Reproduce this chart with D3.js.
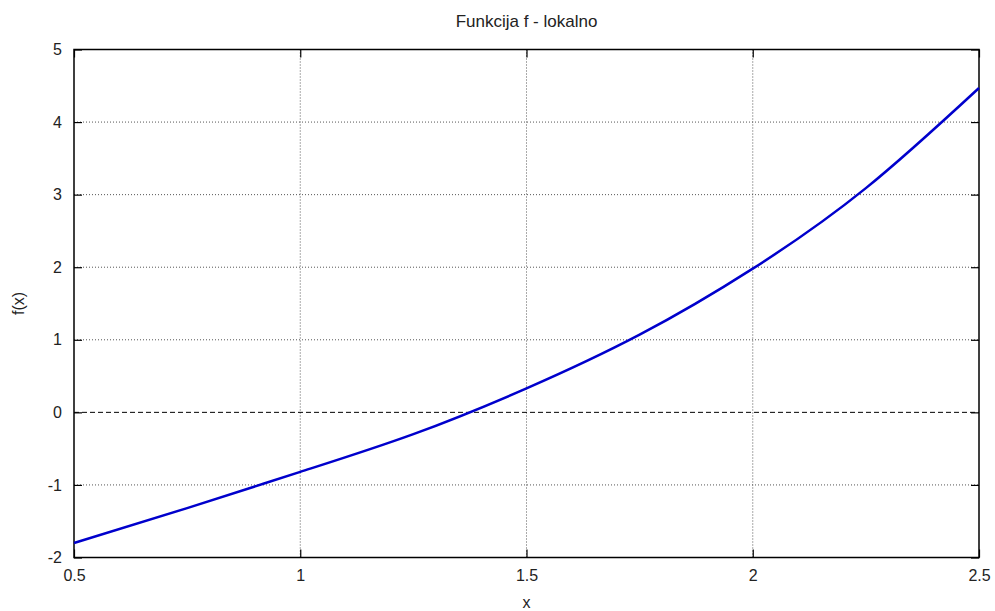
<!DOCTYPE html>
<html>
<head>
<meta charset="utf-8">
<script src="https://cdn.jsdelivr.net/npm/d3@7"></script>
<style>
  body { margin: 0; background: #fff; }
  text { font-family: "Liberation Sans", Arial, sans-serif; fill: #222; }
</style>
</head>
<body>
<div id="chart"></div>
<script>
// curve values
const xs = [0.5, 0.75, 1, 1.25, 1.5, 1.75, 2, 2.25, 2.5]
const fx = [-1.80, -1.32, -0.82, -0.30, 0.33, 1.07, 1.98, 3.09, 4.47]
const xTicks = [0.5, 1, 1.5, 2, 2.5]
const yTicks = [-2, -1, 0, 1, 2, 3, 4, 5]

const W = 995
const H = 611
const margin = { top: 49.5, right: 16, bottom: 53.5, left: 74 }
const w = W - margin.left - margin.right
const h = H - margin.top - margin.bottom

const svg = d3.select('#chart').append('svg')
  .attr('width', W)
  .attr('height', H)

const g = svg.append('g')
  .attr('transform', 'translate(' + margin.left + ',' + margin.top + ')')

const x = d3.scaleLinear().domain([0.5, 2.5]).range([0, w])
const y = d3.scaleLinear().domain([-2, 5]).range([h, 0])

// grid, dotted
g.selectAll('.gx')
  .data(xTicks.filter(d => d > 0.5 && d < 2.5))
  .enter().append('line')
  .attr('x1', d => x(d)).attr('x2', d => x(d))
  .attr('y1', 0).attr('y2', h)
  .attr('stroke', '#555').attr('stroke-width', 1)
  .attr('stroke-dasharray', '1,2')

g.selectAll('.gy')
  .data(yTicks.filter(d => d > -2 && d < 5 && d !== 0))
  .enter().append('line')
  .attr('x1', 0).attr('x2', w)
  .attr('y1', d => y(d)).attr('y2', d => y(d))
  .attr('stroke', '#555').attr('stroke-width', 1)
  .attr('stroke-dasharray', '1,2')

// zero line
g.append('line')
  .attr('x1', 0).attr('x2', w)
  .attr('y1', y(0)).attr('y2', y(0))
  .attr('stroke', '#000').attr('stroke-width', 1)
  .attr('stroke-dasharray', '5,3')

// axes with inward ticks, plain hyphen for minus
const fmt = d => String(d)
const tick = 8
g.append('g').attr('transform', 'translate(0,' + h + ')')
  .call(d3.axisBottom(x).tickValues(xTicks).tickSize(-tick).tickPadding(12).tickFormat(fmt))
g.append('g')
  .call(d3.axisTop(x).tickValues(xTicks).tickSize(-tick).tickFormat(''))
g.append('g')
  .call(d3.axisLeft(y).tickValues(yTicks).tickSize(-tick).tickPadding(12).tickFormat(fmt))
g.append('g').attr('transform', 'translate(' + w + ',0)')
  .call(d3.axisRight(y).tickValues(yTicks).tickSize(-tick).tickFormat(''))

g.selectAll('.domain').remove()
g.selectAll('.tick line').attr('stroke', '#000').attr('stroke-width', 1.2)
g.selectAll('.tick text').style('font-size', '16px').attr('fill', '#222')

g.append('rect')
  .attr('width', w).attr('height', h)
  .attr('fill', 'none').attr('stroke', '#000').attr('stroke-width', 1.5)

// the curve
const pts = xs.map((d, i) => [d, fx[i]])
g.append('path')
  .datum(pts)
  .attr('fill', 'none')
  .attr('stroke', '#0000cc')
  .attr('stroke-width', 2.5)
  .attr('d', d3.line().x(d => x(d[0])).y(d => y(d[1])).curve(d3.curveNatural))

// labels
svg.append('text')
  .attr('x', margin.left + w / 2).attr('y', 27)
  .attr('text-anchor', 'middle').style('font-size', '17px')
  .text('Funkcija f - lokalno')

svg.append('text')
  .attr('x', margin.left + w / 2).attr('y', 608)
  .attr('text-anchor', 'middle').style('font-size', '16px')
  .text('x')

svg.append('text')
  .attr('transform', 'translate(24,' + (margin.top + h / 2) + ') rotate(-90)')
  .attr('text-anchor', 'middle').style('font-size', '16px')
  .text('f(x)')
</script>
</body>
</html>
